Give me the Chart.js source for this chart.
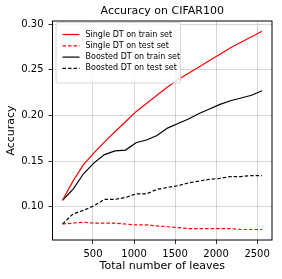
<!DOCTYPE html>
<html>
<head>
<meta charset="utf-8">
<script src="https://cdn.jsdelivr.net/npm/chart.js@4"></script>
<style>
  html, body { margin: 0; padding: 0; background: #fff; }
  #wrap { width: 282px; height: 279px; }
</style>
</head>
<body>
<div id="wrap"><canvas id="acc"></canvas></div>
<script>
const leaves = [128, 256, 384, 512, 640, 768, 896, 1024, 1152, 1280, 1408, 1536, 1664, 1792, 1920, 2048, 2176, 2304, 2432, 2560];
const singleTrain = [0.107, 0.128, 0.146, 0.159, 0.171, 0.182, 0.193, 0.204, 0.213, 0.222, 0.231, 0.239, 0.246, 0.253, 0.260, 0.267, 0.274, 0.280, 0.286, 0.292];
const singleTest = [0.081, 0.082, 0.083, 0.082, 0.082, 0.082, 0.081, 0.080, 0.080, 0.079, 0.078, 0.077, 0.076, 0.076, 0.076, 0.076, 0.076, 0.075, 0.075, 0.075];
const boostedTrain = [0.107, 0.119, 0.136, 0.148, 0.157, 0.161, 0.162, 0.170, 0.173, 0.178, 0.186, 0.191, 0.196, 0.202, 0.207, 0.212, 0.216, 0.219, 0.222, 0.227];
const boostedTest = [0.081, 0.092, 0.096, 0.101, 0.108, 0.108, 0.110, 0.114, 0.114, 0.119, 0.121, 0.123, 0.126, 0.128, 0.130, 0.131, 0.133, 0.133, 0.134, 0.134];
const xTicks = [500, 1000, 1500, 2000, 2500];
const yTicks = [0.10, 0.15, 0.20, 0.25, 0.30];
const chartTitle = 'Accuracy on CIFAR100';

const FONT = 'DejaVu Sans';

function pts(arr) {
  return arr.map((v, i) => ({ x: leaves[i], y: v }));
}

function line(label, arr, color, dashed) {
  return {
    label: label,
    data: pts(arr),
    borderColor: color,
    backgroundColor: color,
    borderWidth: 1.2,
    borderDash: dashed ? [3.5, 2] : [],
    pointRadius: 0,
    tension: 0,
    fill: false
  };
}

// box around the plot, title over the plot, legend inside upper left (matplotlib look)
const framePlugin = {
  id: 'frame',
  afterDraw(chart) {
    const ctx = chart.ctx;
    const a = chart.chartArea;
    ctx.save();

    ctx.fillStyle = '#000';
    ctx.font = '11px "' + FONT + '"';
    ctx.textAlign = 'center';
    ctx.textBaseline = 'middle';
    ctx.fillText(chartTitle, (a.left + a.right) / 2, a.top - 9.5);

    // legend
    const bx = a.left + 3, by = a.top + 1, bw = 124.5, bh = 60.5;
    ctx.fillStyle = 'rgba(255,255,255,0.8)';
    ctx.strokeStyle = '#d6d6d6';
    ctx.lineWidth = 1;
    ctx.beginPath();
    ctx.roundRect(bx + 0.5, by + 0.5, bw, bh, 2);
    ctx.fill();
    ctx.stroke();
    ctx.font = '8px "' + FONT + '"';
    ctx.textAlign = 'left';
    ctx.textBaseline = 'middle';
    chart.data.datasets.forEach((ds, i) => {
      const y = by + 12.5 + i * 11.3;
      ctx.strokeStyle = ds.borderColor;
      ctx.lineWidth = 1.2;
      ctx.setLineDash(ds.borderDash.length ? [3.5, 2] : []);
      ctx.beginPath();
      ctx.moveTo(bx + 7, y);
      ctx.lineTo(bx + 24, y);
      ctx.stroke();
      ctx.setLineDash([]);
      ctx.fillStyle = '#000';
      ctx.fillText(ds.label, bx + 30, y);
    });

    ctx.strokeStyle = '#000';
    ctx.lineWidth = 1;
    ctx.strokeRect(a.left, a.top, a.right - a.left, a.bottom - a.top);
    ctx.restore();
  }
};

new Chart(document.getElementById('acc'), {
  type: 'line',
  data: {
    datasets: [
      line('Single DT on train set', singleTrain, '#ff0000', false),
      line('Single DT on test set', singleTest, '#ff0000', true),
      line('Boosted DT on train set', boostedTrain, '#000000', false),
      line('Boosted DT on test set', boostedTest, '#000000', true)
    ]
  },
  options: {
    responsive: true,
    maintainAspectRatio: false,
    animation: false,
    layout: {
      padding: { left: 0, right: 10, top: 21, bottom: 0 }
    },
    plugins: {
      legend: { display: false },
      tooltip: { enabled: false },
      title: { display: false }
    },
    scales: {
      x: {
        type: 'linear',
        min: 6.4,
        max: 2681.6,
        afterFit: (s) => { s.height = 39; },
        afterBuildTicks: (s) => { s.ticks = xTicks.map(v => ({ value: v })); },
        grid: {
          color: 'rgba(176,176,176,0.65)',
          lineWidth: 0.8,
          tickColor: '#000',
          tickLength: 4,
          drawTicks: true
        },
        border: { display: false },
        ticks: {
          color: '#000',
          padding: 4,
          maxRotation: 0,
          font: { family: FONT, size: 10 },
          callback: (v) => String(v)
        },
        title: {
          display: true,
          text: 'Total number of leaves',
          color: '#000',
          font: { family: FONT, size: 11 },
          padding: { top: 6, bottom: 6 }
        }
      },
      y: {
        min: 0.0635,
        max: 0.3033,
        afterFit: (s) => { s.width = 52.5; },
        afterBuildTicks: (s) => { s.ticks = yTicks.map(v => ({ value: v })); },
        grid: {
          color: 'rgba(176,176,176,0.65)',
          lineWidth: 0.8,
          tickColor: '#000',
          tickLength: 4,
          drawTicks: true
        },
        border: { display: false },
        ticks: {
          color: '#000',
          padding: 5,
          font: { family: FONT, size: 10 },
          callback: (v) => v.toFixed(2)
        },
        title: {
          display: true,
          text: 'Accuracy',
          color: '#000',
          font: { family: FONT, size: 11 },
          padding: { top: 5, bottom: 5 }
        }
      }
    }
  },
  plugins: [framePlugin]
});
</script>
</body>
</html>
